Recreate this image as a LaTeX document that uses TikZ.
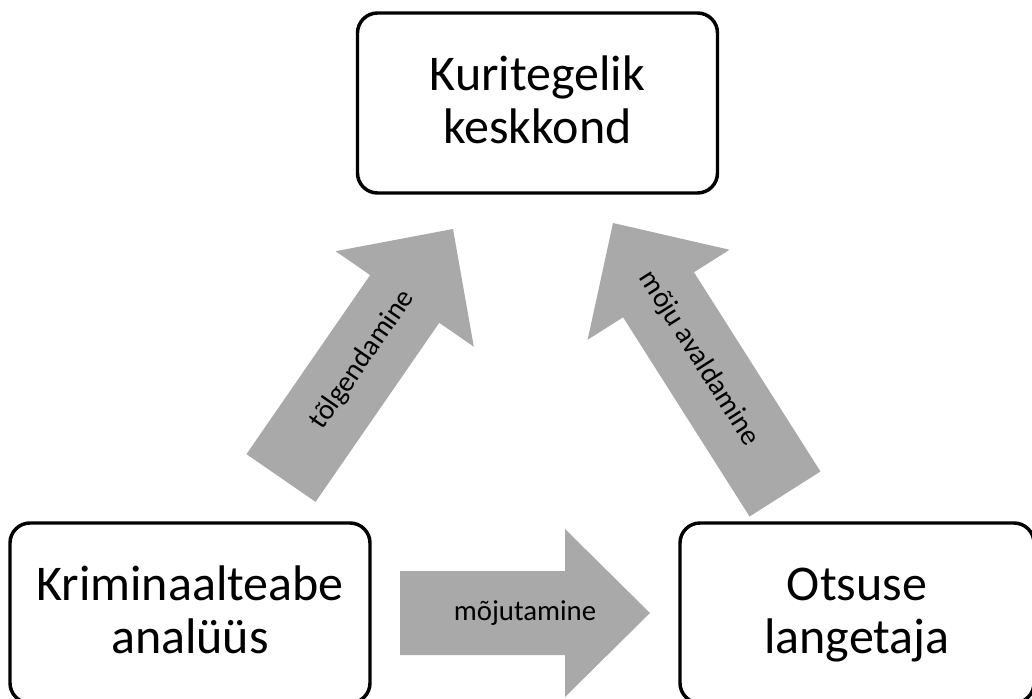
\documentclass[tikz,border=0pt]{standalone}
\usepackage{fontspec}
\setmainfont{Carlito}
\usetikzlibrary{calc}
\definecolor{arrowgray}{HTML}{A9A9A9}
\newcommand\topstrut{\rule{0pt}{32.5pt}}
\tikzset{
  box/.style={draw=black, line width=2.6pt, rounded corners=15pt,
    minimum width=270pt, minimum height=135pt, align=center, inner sep=0pt,
    font=\fontsize{37.5}{40}\selectfont},
  lbl/.style={font=\fontsize{21.6}{26}\selectfont, text=black, inner sep=0pt},
  arrowfill/.style={fill=arrowgray, draw=none}
}
\newcommand\blockarrow[2]{%
  \coordinate (#1h) at ($(#2)!63.75pt!(#1)$);
  \fill[arrowfill] ($(#1)!31.5pt!90:(#2)$)
    -- ($(#1h)!31.5pt!-90:(#1)$)
    -- ($(#1h)!63pt!-90:(#1)$)
    -- (#2)
    -- ($(#1h)!63pt!90:(#1)$)
    -- ($(#1h)!31.5pt!90:(#1)$)
    -- ($(#1)!31.5pt!-90:(#2)$) -- cycle;
}
\begin{document}
\begin{tikzpicture}[x=0.75pt,y=-0.75pt]
\useasboundingbox (0,0) rectangle (1032,699);
\clip (0,0) rectangle (1032,699);

% block arrows
\coordinate (a1b) at (281,478); \coordinate (a1t) at (453,229);
\coordinate (a2b) at (785,494); \coordinate (a2t) at (613,223);
\coordinate (a3b) at (400,613); \coordinate (a3t) at (650,613);
\blockarrow{a1b}{a1t}
\blockarrow{a2b}{a2t}
\blockarrow{a3b}{a3t}

\node[lbl, rotate=55.4] (l1) at ($(a1b)!0.475!(a1t)$) {tõlgendamine};
\node[lbl, rotate=-57.6] (l2) at ($(a2b)!0.5!(a2t)$) {mõju avaldamine};
\node[lbl] (l3) at ($(a3b)!0.5!(a3t)$) {mõjutamine};

% boxes
\node[box] (kk) at (537.5,103) {\topstrut\strut Kuritegelik\\\strut keskkond};
\node[box] (ka) at (190,613) {\topstrut\strut Kriminaalteabe\\\strut analüüs};
\node[box, minimum width=265.5pt] (ol) at (857,613) {\topstrut\strut Otsuse\\\strut langetaja};
\end{tikzpicture}
\end{document}
